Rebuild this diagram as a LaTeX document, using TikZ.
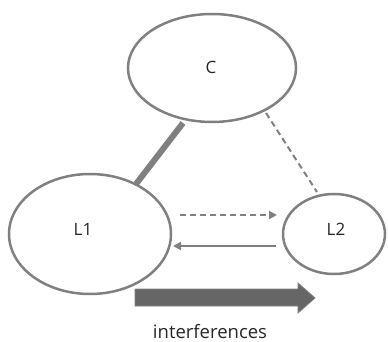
\documentclass[tikz,border=0pt]{standalone}
\usepackage{fontspec}
\setmainfont{Open Sans}
\usetikzlibrary{shapes.geometric,arrows.meta}
\definecolor{edgegray}{HTML}{808080}
\definecolor{arrowgray}{HTML}{666666}
\definecolor{txt}{HTML}{262626}
\begin{document}
\begin{tikzpicture}[x=1pt,y=-1pt,
  ell/.style={draw=edgegray,line width=2.5pt,ellipse,inner sep=0pt},
  lbl/.style={font=\fontsize{17}{19}\selectfont,text=txt,inner sep=0pt}]
\useasboundingbox (0,0) rectangle (388,342);
\node[ell,minimum width=168pt,minimum height=108pt] (C) at (212,68) {};
\node[ell,minimum width=162pt,minimum height=120pt] (L1) at (90,234) {};
\node[ell,minimum width=102pt,minimum height=80pt] (L2) at (334,234) {};
\node[lbl] (Ct) at ([shift={(-1,-1)}]C.center) {C};
\node[lbl] (L1t) at ([shift={(-7,-5)}]L1.center) {L1};
\node[lbl] (L2t) at ([shift={(2,-5)}]L2.center) {L2};
\coordinate (c1) at (183,123);
\coordinate (l1a) at (136,184);
\coordinate (c2) at (266,113);
\coordinate (l2a) at (317,192);
\draw[edgegray,line width=6pt] (c1) -- (l1a);
\draw[edgegray,line width=2pt,dash pattern=on 6pt off 4pt] (c2) -- (l2a);
\coordinate (d1) at (180,215);
\coordinate (d2) at (277,215);
\draw[edgegray,line width=2pt,dash pattern=on 6pt off 4pt,-{Triangle[length=8pt,width=8pt]}] (d1) -- (d2);
\coordinate (s1) at (276,246);
\coordinate (s2) at (173,246);
\draw[edgegray,line width=2pt,-{Triangle[length=8pt,width=8pt]}] (s1) -- (s2);
\draw[draw=edgegray,fill=arrowgray,line width=0.8pt,line join=miter]
  (135,289) -- (298,289) -- (298,283) -- (315,298) -- (298,313) -- (298,306) -- (135,306) -- cycle;
\node[font=\fontsize{18.5}{20}\selectfont,text=txt,inner sep=0pt,anchor=base] (intf) at (210,338.5) {interferences};
\end{tikzpicture}
\end{document}
